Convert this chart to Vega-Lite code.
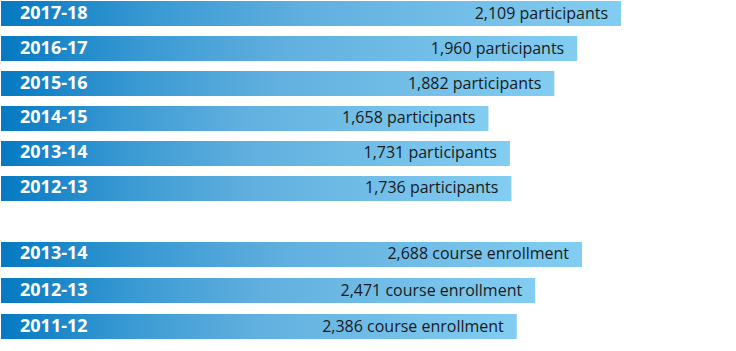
{
  "$schema": "https://vega.github.io/schema/vega-lite/v6.json",
  "padding": {"left": 1, "top": 1, "right": 0, "bottom": 0},
  "background": "white",
  "config": {"view": {"stroke": null}},
  "spacing": 41,
  "datasets": {
    "rows": [
      {"group": "participants", "period": "2017-18", "value": 2109, "label": "2,109 participants"},
      {"group": "participants", "period": "2016-17", "value": 1960, "label": "1,960 participants"},
      {"group": "participants", "period": "2015-16", "value": 1882, "label": "1,882 participants"},
      {"group": "participants", "period": "2014-15", "value": 1658, "label": "1,658 participants"},
      {"group": "participants", "period": "2013-14", "value": 1731, "label": "1,731 participants"},
      {"group": "participants", "period": "2012-13", "value": 1736, "label": "1,736 participants"},
      {"group": "enrollment", "period": "2013-14", "value": 2688, "label": "2,688 course enrollment"},
      {"group": "enrollment", "period": "2012-13", "value": 2471, "label": "2,471 course enrollment"},
      {"group": "enrollment", "period": "2011-12", "value": 2386, "label": "2,386 course enrollment"}
    ]
  },
  "vconcat": [
    {
      "width": 735,
      "height": 200,
      "data": {"name": "rows"},
      "transform": [{"filter": "datum.group === 'participants'"}],
      "encoding": {
        "y": {"field": "period", "type": "nominal", "sort": null, "axis": null,
              "scale": {"paddingInner": 0.2857, "paddingOuter": 0}}
      },
      "layer": [
        {
          "mark": {"type": "bar", "fill": {"gradient": "linear", "x1": 0, "x2": 1, "y1": 0, "y2": 0,
            "stops": [{"offset": 0, "color": "#0579c2"}, {"offset": 0.25, "color": "#3a9ad3"}, {"offset": 0.5, "color": "#62b0df"}, {"offset": 1, "color": "#82cdf1"}]}},
          "encoding": {
            "x": {"field": "value", "type": "quantitative", "axis": null, "scale": {"domain": [0, 2500], "nice": false}}
          }
        },
        {
          "mark": {"type": "text", "align": "left", "baseline": "middle", "dx": 19, "font": "Open Sans", "fontWeight": "bold", "fontSize": 18, "fill": "white"},
          "encoding": {"x": {"datum": 0, "type": "quantitative"}, "text": {"field": "period"}}
        },
        {
          "mark": {"type": "text", "align": "right", "baseline": "middle", "dx": -13, "font": "Open Sans", "fontSize": 16, "fill": "#1a1a1a"},
          "encoding": {"x": {"field": "value", "type": "quantitative"}, "text": {"field": "label"}}
        }
      ]
    },
    {
      "width": 735,
      "height": 97,
      "data": {"name": "rows"},
      "transform": [{"filter": "datum.group === 'enrollment'"}],
      "encoding": {
        "y": {"field": "period", "type": "nominal", "sort": null, "axis": null,
              "scale": {"paddingInner": 0.3056, "paddingOuter": 0}}
      },
      "layer": [
        {
          "mark": {"type": "bar", "fill": {"gradient": "linear", "x1": 0, "x2": 1, "y1": 0, "y2": 0,
            "stops": [{"offset": 0, "color": "#0579c2"}, {"offset": 0.25, "color": "#3a9ad3"}, {"offset": 0.5, "color": "#62b0df"}, {"offset": 1, "color": "#82cdf1"}]}},
          "encoding": {
            "x": {"field": "value", "type": "quantitative", "axis": null, "scale": {"domain": [0, 3400], "nice": false}}
          }
        },
        {
          "mark": {"type": "text", "align": "left", "baseline": "middle", "dx": 19, "font": "Open Sans", "fontWeight": "bold", "fontSize": 18, "fill": "white"},
          "encoding": {"x": {"datum": 0, "type": "quantitative"}, "text": {"field": "period"}}
        },
        {
          "mark": {"type": "text", "align": "right", "baseline": "middle", "dx": -13, "font": "Open Sans", "fontSize": 16, "fill": "#1a1a1a"},
          "encoding": {"x": {"field": "value", "type": "quantitative"}, "text": {"field": "label"}}
        }
      ]
    }
  ]
}
